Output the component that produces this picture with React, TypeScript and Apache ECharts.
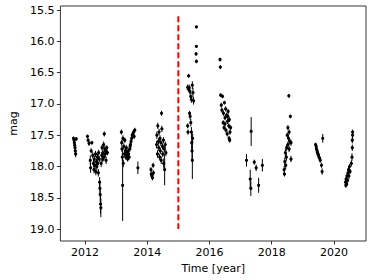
import React, { useEffect, useRef } from "react";
import * as echarts from "echarts";

// [time (year), magnitude, error]
const season2011: number[][] = [
  [2011.63, 17.55, 0.03], [2011.65, 17.58, 0.03], [2011.66, 17.62, 0.04], [2011.67, 17.66, 0.04],
  [2011.68, 17.7, 0.05], [2011.69, 17.75, 0.05], [2011.7, 17.8, 0.05], [2011.72, 17.56, 0.03],
];
const season2012: number[][] = [
  [2012.08, 17.52, 0.03], [2012.1, 17.58, 0.03], [2012.13, 17.63, 0.04], [2012.17, 17.9, 0.08],
  [2012.18, 18.02, 0.08], [2012.2, 17.75, 0.04], [2012.22, 17.62, 0.03], [2012.25, 17.82, 0.05],
  [2012.27, 17.95, 0.06], [2012.29, 18.05, 0.06], [2012.3, 17.88, 0.05], [2012.32, 17.98, 0.05],
  [2012.34, 17.8, 0.05], [2012.35, 18.08, 0.06], [2012.37, 17.92, 0.05], [2012.38, 18.0, 0.05],
  [2012.4, 17.85, 0.05], [2012.41, 17.95, 0.05], [2012.43, 18.1, 0.06], [2012.44, 17.78, 0.05],
  [2012.46, 17.88, 0.05], [2012.47, 18.25, 0.08], [2012.48, 18.35, 0.1], [2012.49, 18.45, 0.12],
  [2012.5, 18.6, 0.15], [2012.51, 18.66, 0.15], [2012.52, 17.95, 0.06], [2012.54, 17.82, 0.05],
  [2012.55, 17.7, 0.05], [2012.57, 17.88, 0.05], [2012.58, 17.78, 0.05], [2012.6, 17.65, 0.05],
  [2012.61, 17.85, 0.06], [2012.62, 17.48, 0.04], [2012.64, 17.72, 0.05], [2012.65, 17.8, 0.05],
  [2012.67, 17.75, 0.05], [2012.68, 17.9, 0.06], [2012.7, 17.7, 0.04], [2012.72, 17.78, 0.04],
];
const season2013: number[][] = [
  [2013.17, 17.45, 0.04], [2013.18, 17.62, 0.05], [2013.19, 17.72, 0.05], [2013.2, 17.85, 0.06],
  [2013.21, 18.3, 0.57], [2013.22, 17.55, 0.05], [2013.23, 17.95, 0.06], [2013.25, 17.68, 0.05],
  [2013.27, 17.8, 0.04], [2013.28, 17.58, 0.04], [2013.3, 17.75, 0.04], [2013.31, 17.85, 0.04],
  [2013.33, 17.7, 0.04], [2013.34, 17.78, 0.04], [2013.36, 17.82, 0.04], [2013.37, 17.88, 0.04],
  [2013.39, 17.75, 0.04], [2013.4, 17.8, 0.04], [2013.42, 17.85, 0.04], [2013.44, 17.72, 0.04],
  [2013.45, 17.68, 0.04], [2013.46, 17.65, 0.04], [2013.48, 17.6, 0.04], [2013.5, 17.55, 0.04],
  [2013.52, 17.5, 0.04], [2013.54, 17.48, 0.04], [2013.56, 17.45, 0.04], [2013.58, 17.52, 0.04],
  [2013.6, 17.42, 0.04], [2013.7, 18.02, 0.1],
];
const season2014: number[][] = [
  [2014.12, 18.05, 0.04], [2014.13, 18.12, 0.04], [2014.15, 18.15, 0.04], [2014.17, 18.18, 0.04],
  [2014.19, 17.98, 0.04], [2014.2, 18.1, 0.04], [2014.3, 17.65, 0.06], [2014.31, 17.5, 0.06],
  [2014.33, 17.8, 0.06], [2014.34, 17.35, 0.05], [2014.36, 17.6, 0.05], [2014.37, 17.7, 0.05],
  [2014.38, 17.45, 0.05], [2014.4, 17.85, 0.05], [2014.41, 17.55, 0.05], [2014.42, 17.75, 0.05],
  [2014.44, 17.62, 0.05], [2014.45, 17.9, 0.06], [2014.46, 17.15, 0.04], [2014.47, 17.4, 0.05],
  [2014.49, 17.68, 0.05], [2014.5, 17.8, 0.05], [2014.52, 17.58, 0.05], [2014.53, 17.95, 0.08],
  [2014.55, 17.72, 0.05], [2014.56, 18.05, 0.25], [2014.58, 17.65, 0.05], [2014.6, 17.78, 0.05],
];
const season2015: number[][] = [
  [2015.33, 16.55, 0.03], [2015.3, 16.73, 0.04], [2015.32, 16.76, 0.04], [2015.35, 16.74, 0.05],
  [2015.37, 16.8, 0.05], [2015.4, 16.88, 0.06], [2015.42, 16.93, 0.05], [2015.45, 16.7, 0.06],
  [2015.47, 16.82, 0.08], [2015.49, 16.95, 0.06], [2015.58, 15.77, 0.02], [2015.58, 16.08, 0.02],
  [2015.57, 16.2, 0.03], [2015.58, 16.32, 0.03], [2015.3, 17.35, 0.04], [2015.31, 17.45, 0.04],
  [2015.36, 17.15, 0.04], [2015.38, 17.2, 0.05], [2015.4, 17.3, 0.06], [2015.42, 17.45, 0.08],
  [2015.43, 17.62, 0.1], [2015.44, 17.75, 0.15], [2015.45, 17.9, 0.3], [2015.46, 17.55, 0.08],
];
const season2016: number[][] = [
  [2016.34, 16.29, 0.03], [2016.35, 16.41, 0.03], [2016.36, 16.86, 0.03], [2016.4, 17.1, 0.04],
  [2016.42, 16.88, 0.03], [2016.38, 17.02, 0.04], [2016.45, 17.15, 0.04], [2016.48, 16.98, 0.03],
  [2016.5, 17.22, 0.04], [2016.44, 17.3, 0.04], [2016.52, 17.08, 0.04], [2016.55, 17.18, 0.04],
  [2016.47, 17.38, 0.04], [2016.58, 17.28, 0.04], [2016.53, 17.42, 0.04], [2016.6, 17.12, 0.04],
  [2016.62, 17.35, 0.04], [2016.57, 17.48, 0.04], [2016.64, 17.25, 0.04], [2016.66, 17.45, 0.04],
  [2016.63, 17.55, 0.04], [2016.59, 17.2, 0.04], [2016.68, 17.38, 0.04], [2016.65, 17.58, 0.04],
  [2016.5, 17.32, 0.04],
];
const season2017: number[][] = [
  [2017.19, 17.9, 0.1], [2017.34, 17.44, 0.23], [2017.31, 18.2, 0.15], [2017.33, 18.35, 0.12],
  [2017.44, 17.93, 0.04], [2017.5, 18.02, 0.05], [2017.58, 18.3, 0.12], [2017.7, 17.98, 0.1],
];
const season2018: number[][] = [
  [2018.55, 16.87, 0.03], [2018.6, 17.2, 0.03], [2018.52, 17.38, 0.04], [2018.56, 17.45, 0.04],
  [2018.5, 17.5, 0.04], [2018.54, 17.55, 0.05], [2018.58, 17.6, 0.05], [2018.52, 17.65, 0.05],
  [2018.62, 17.62, 0.05], [2018.48, 17.7, 0.05], [2018.56, 17.72, 0.05], [2018.44, 17.78, 0.06],
  [2018.47, 17.85, 0.06], [2018.62, 17.88, 0.05], [2018.42, 17.92, 0.06], [2018.45, 17.98, 0.06],
  [2018.4, 18.05, 0.06], [2018.41, 18.12, 0.04],
];
const season2019: number[][] = [
  [2019.41, 17.65, 0.03], [2019.43, 17.68, 0.03], [2019.44, 17.72, 0.03], [2019.46, 17.75, 0.03],
  [2019.47, 17.78, 0.03], [2019.49, 17.8, 0.03], [2019.5, 17.82, 0.03], [2019.52, 17.85, 0.03],
  [2019.54, 17.87, 0.03], [2019.56, 17.9, 0.04], [2019.6, 17.98, 0.04], [2019.62, 18.08, 0.05],
  [2019.64, 17.55, 0.07],
];
const season2020: number[][] = [
  [2020.37, 18.25, 0.04], [2020.38, 18.3, 0.04], [2020.39, 18.2, 0.04], [2020.41, 18.28, 0.04],
  [2020.42, 18.15, 0.04], [2020.44, 18.22, 0.04], [2020.45, 18.1, 0.04], [2020.47, 18.05, 0.04],
  [2020.48, 18.15, 0.05], [2020.5, 18.0, 0.04], [2020.52, 18.08, 0.04], [2020.56, 17.95, 0.05],
  [2020.58, 17.85, 0.06], [2020.59, 17.7, 0.05], [2020.59, 17.58, 0.05], [2020.6, 17.5, 0.05],
  [2020.6, 17.45, 0.04],
];

const markerTime = [2015.0, 2015.0];
const markerMag = [15.6, 19.0];

const xTicks = [2012, 2014, 2016, 2018, 2020];
const yTicks = [15.5, 16.0, 16.5, 17.0, 17.5, 18.0, 18.5, 19.0];

const allPoints = [
  ...season2011, ...season2012, ...season2013, ...season2014, ...season2015,
  ...season2016, ...season2017, ...season2018, ...season2019, ...season2020,
];

const FONT = "DejaVu Sans";

export default function App() {
  const ref = useRef<HTMLDivElement>(null);
  useEffect(() => {
    if (!ref.current) return;
    const chart = echarts.init(ref.current, undefined, { renderer: "svg" });
    chart.setOption({
      animation: false,
      backgroundColor: "#ffffff",
      grid: {
        left: 55,
        right: 8,
        top: 6,
        bottom: 39,
        show: true,
        borderColor: "#000",
        borderWidth: 0.8,
        backgroundColor: "transparent",
      },
      xAxis: {
        type: "value",
        min: 2011.21,
        max: 2021.03,
        name: "Time [year]",
        nameLocation: "middle",
        nameGap: 20,
        nameTextStyle: { fontFamily: FONT, fontSize: 11, color: "#000" },
        axisLine: { show: false },
        axisTick: { show: true, inside: false, length: 3.5, customValues: xTicks, lineStyle: { color: "#000", width: 0.8 } },
        axisLabel: { customValues: xTicks, margin: 6, fontFamily: FONT, fontSize: 11, color: "#000", formatter: (v: number) => String(Math.round(v)) },
        splitLine: { show: false },
      },
      yAxis: {
        type: "value",
        inverse: true,
        min: 15.435,
        max: 19.19,
        name: "mag",
        nameLocation: "middle",
        nameGap: 39,
        nameRotate: 90,
        nameTextStyle: { fontFamily: FONT, fontSize: 11, color: "#000" },
        axisLine: { show: false },
        axisTick: { show: true, inside: false, length: 3.5, customValues: yTicks, lineStyle: { color: "#000", width: 0.8 } },
        axisLabel: { customValues: yTicks, margin: 6, fontFamily: FONT, fontSize: 11, color: "#000", formatter: (v: number) => v.toFixed(1) },
        splitLine: { show: false },
      },
      series: [
        {
          type: "line",
          data: markerTime.map((t, i) => [t, markerMag[i]]),
          symbol: "none",
          lineStyle: { color: "#ff0000", width: 2, type: [6, 3] },
          z: 1,
        },
        {
          type: "custom",
          data: allPoints,
          clip: true,
          z: 2,
          renderItem: (params: any, api: any) => {
            const t = api.value(0);
            const m = api.value(1);
            const e = api.value(2);
            const p = api.coord([t, m]);
            const top = api.coord([t, m - e]);
            const bot = api.coord([t, m + e]);
            return {
              type: "group",
              children: [
                {
                  type: "line",
                  shape: { x1: top[0], y1: top[1], x2: bot[0], y2: bot[1] },
                  style: { stroke: "#000", lineWidth: 1 },
                },
                {
                  type: "circle",
                  shape: { cx: p[0], cy: p[1], r: 1.6 },
                  style: { fill: "#000" },
                },
              ],
            };
          },
        },
      ],
    });
    return () => chart.dispose();
  }, []);
  return (
    <div
      ref={ref}
      style={{ position: "fixed", left: 0, top: 0, width: 374, height: 280, background: "#fff" }}
    />
  );
}
